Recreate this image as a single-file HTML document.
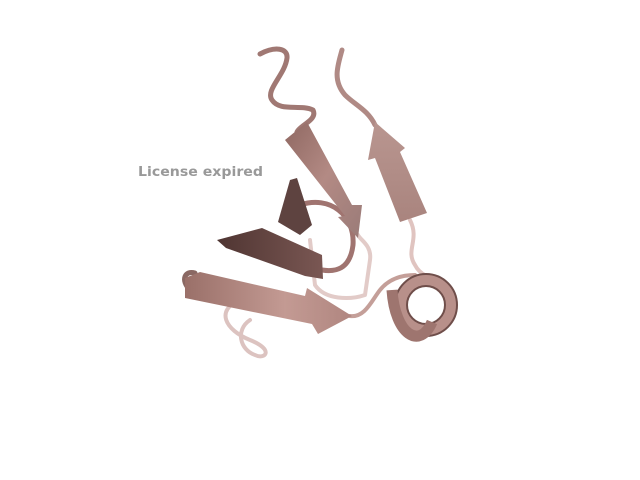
<!DOCTYPE html>
<html><head><meta charset="utf-8"><style>
html,body{margin:0;padding:0;background:#fff;width:640px;height:480px;overflow:hidden}
svg{display:block}
</style></head><body>
<svg width="640" height="480" viewBox="0 0 640 480">
<defs>
<linearGradient id="g1" x1="0" y1="0" x2="1" y2="1"><stop offset="0" stop-color="#8f6862"/><stop offset="0.5" stop-color="#b38a84"/><stop offset="1" stop-color="#9a7b78"/></linearGradient>
<linearGradient id="g2" x1="0" y1="0" x2="0" y2="1"><stop offset="0" stop-color="#b99690"/><stop offset="1" stop-color="#a9847e"/></linearGradient>
<linearGradient id="g3" x1="0" y1="0" x2="1" y2="0"><stop offset="0" stop-color="#4f3532"/><stop offset="1" stop-color="#7a5753"/></linearGradient>
<linearGradient id="g4" x1="0" y1="0" x2="1" y2="0"><stop offset="0" stop-color="#9a7069"/><stop offset="0.6" stop-color="#c39a93"/><stop offset="1" stop-color="#b08680"/></linearGradient>
</defs>
<text x="138" y="176" font-family="DejaVu Sans, sans-serif" font-weight="bold" font-size="13.5" textLength="125" lengthAdjust="spacingAndGlyphs" fill="#999">License expired</text>
<g fill="none" stroke-linecap="round" stroke-linejoin="round">
<path d="M240 300 C215 310,225 330,250 340 C275 350,265 360,255 355 C240 350,235 330,250 320" stroke="#dcc3c0" stroke-width="4"/>
<path d="M310 240 L315 285 C325 300,350 300,365 295 L370 260 C372 245,360 240,358 235" stroke="#e2cbc8" stroke-width="4"/>
<path d="M410 220 C420 240,405 250,415 265 C420 275,430 278,440 280" stroke="#e0c4c0" stroke-width="4"/>
<path d="M260 54 C275 46,288 48,287 58 C285 75,265 90,272 100 C280 112,300 104,313 110 C318 120,300 125,297 132" stroke="#a07873" stroke-width="5"/>
<path d="M342 50 C338 65,332 80,345 95 C355 105,368 110,375 125" stroke="#b08a85" stroke-width="5"/>
<path d="M190 290 C180 280,185 270,195 273" stroke="#8a6863" stroke-width="5"/>
<path d="M300 205 C330 195,355 215,353 245 C350 270,335 272,322 270" stroke="#a07470" stroke-width="5"/>
<path d="M350 316 C365 318,372 300,380 290 C388 280,400 275,415 275" stroke="#c49f99" stroke-width="4"/>
</g>
<polygon points="285,140 307,122 352,205 362,205 358,238 338,217 345,216" fill="url(#g1)"/>
<polygon points="400,222 427,213 400,152 405,148 375,122 368,160 375,158" fill="url(#g2)"/>
<polygon points="290,180 297,178 312,225 300,235 278,222" fill="#5e4340"/>
<polygon points="217,240 262,228 322,255 323,279 305,276 226,248" fill="url(#g3)"/>
<polygon points="185,278 200,272 305,296 307,288 352,316 318,334 312,324 185,298" fill="url(#g4)"/>
<g>
<ellipse cx="426" cy="305" rx="25" ry="25" fill="none" stroke="#6f4e4a" stroke-width="14"/>
<ellipse cx="426" cy="305" rx="25" ry="25" fill="none" stroke="#b8908a" stroke-width="10"/>
<path d="M392 290 C395 335,420 350,432 322" fill="none" stroke="#9e756f" stroke-width="11"/>
</g>
</svg>
</body></html>
